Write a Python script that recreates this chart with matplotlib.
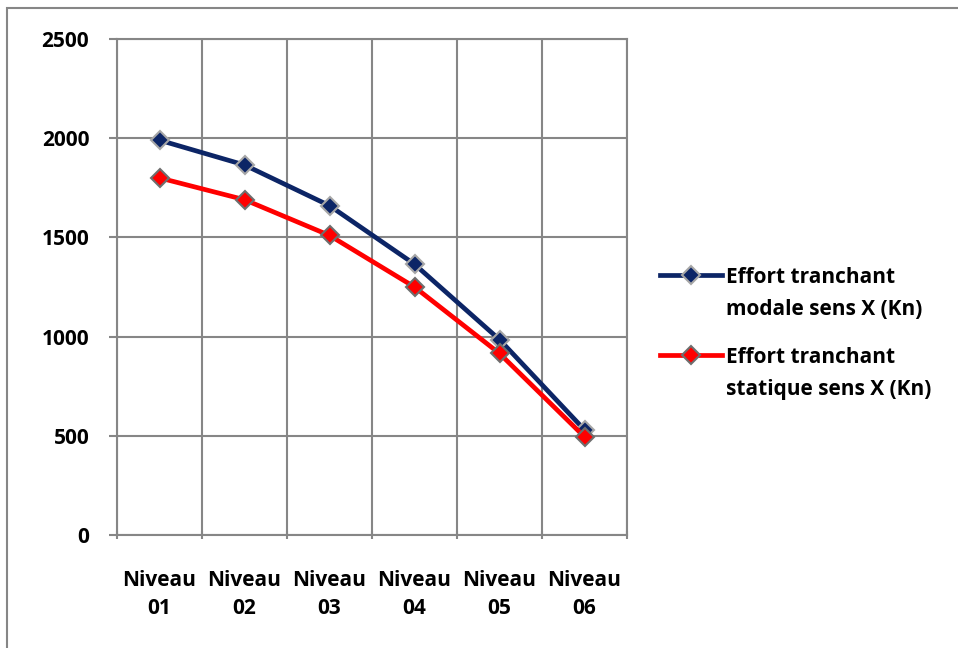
import matplotlib
matplotlib.use("Agg")
import matplotlib.pyplot as plt
from matplotlib.patches import Rectangle
from matplotlib.lines import Line2D
from matplotlib.ticker import FixedLocator, NullFormatter, FixedFormatter

categories = ["Niveau\n01", "Niveau\n02", "Niveau\n03", "Niveau\n04", "Niveau\n05", "Niveau\n06"]
modale = [1990, 1865, 1660, 1365, 985, 530]
statique = [1800, 1690, 1510, 1250, 915, 495]
yticks = [0, 500, 1000, 1500, 2000, 2500]
label_modale = ["Effort tranchant", "modale sens X (Kn)"]
label_statique = ["Effort tranchant", "statique sens X (Kn)"]

plt.rcParams['font.family'] = ['Open Sans', 'DejaVu Sans']
plt.rcParams['font.weight'] = 'bold'
FS = 15
W, H = 958, 648

fig = plt.figure(figsize=(9.58, 6.48), dpi=100)
fig.patches.append(Rectangle((7/W, -0.1), 1.2, 1 - 8/H + 0.1, transform=fig.transFigure,
                             fill=False, edgecolor='#868686', linewidth=1.5, zorder=0))

ax = fig.add_axes([117/W, (H-535)/H, 510/W, 496/H])
x = list(range(len(categories)))
styles = [
    dict(color='#0c2566', markerfacecolor='#0c2566', markeredgecolor='#a6a6a6'),
    dict(color='#ff0000', markerfacecolor='#ff0000', markeredgecolor='#6e6e6e'),
]
common = dict(linewidth=3.4, marker='D', markersize=9.5, markeredgewidth=1.5)
ax.plot(x, modale, zorder=3, **styles[0], **common)
ax.plot(x, statique, zorder=4, **styles[1], **common)

ax.set_xlim(-0.5, len(categories) - 0.5)
ax.set_ylim(0, 2500)
ax.set_yticks(yticks)
ax.set_yticklabels([str(v) for v in yticks])

ax.xaxis.set_major_locator(FixedLocator([i - 0.5 for i in range(len(categories) + 1)]))
ax.xaxis.set_major_formatter(NullFormatter())
ax.xaxis.set_minor_locator(FixedLocator(x))
ax.xaxis.set_minor_formatter(FixedFormatter(categories))
ax.tick_params(axis='x', which='minor', length=0, pad=25, labelsize=FS)
ax.tick_params(axis='x', which='major', length=6, width=1.5, color='#868686', direction='inout')
ax.tick_params(axis='y', length=6, width=1.5, color='#868686', pad=14, labelsize=FS)
for lab in ax.get_xticklabels(minor=True):
    lab.set_fontweight('bold')
    lab.set_linespacing(1.45)
for lab in ax.get_yticklabels():
    lab.set_fontweight('bold')

ax.grid(True, which='major', color='#868686', linewidth=1.5)
ax.set_axisbelow(True)
for s in ax.spines.values():
    s.set_color('#868686')
    s.set_linewidth(1.5)

# Legend (Excel style: marker line aligned with first text line)
for (lines, st, y0) in [(label_modale, styles[0], 275), (label_statique, styles[1], 355)]:
    fy = (H - y0) / H
    fig.add_artist(Line2D([660/W, 722/W], [fy, fy], transform=fig.transFigure,
                          linewidth=3.4, color=st['color']))
    fig.add_artist(Line2D([691/W], [fy], transform=fig.transFigure, marker='D',
                          markersize=9.5, markeredgewidth=1.5, linestyle='none',
                          markerfacecolor=st['markerfacecolor'],
                          markeredgecolor=st['markeredgecolor']))
    for k, t in enumerate(lines):
        fig.text(726/W, (H - (y0 + 32*k))/H, t, fontsize=FS, fontweight='bold',
                 ha='left', va='center_baseline')

fig.savefig("out.png", dpi=100)
